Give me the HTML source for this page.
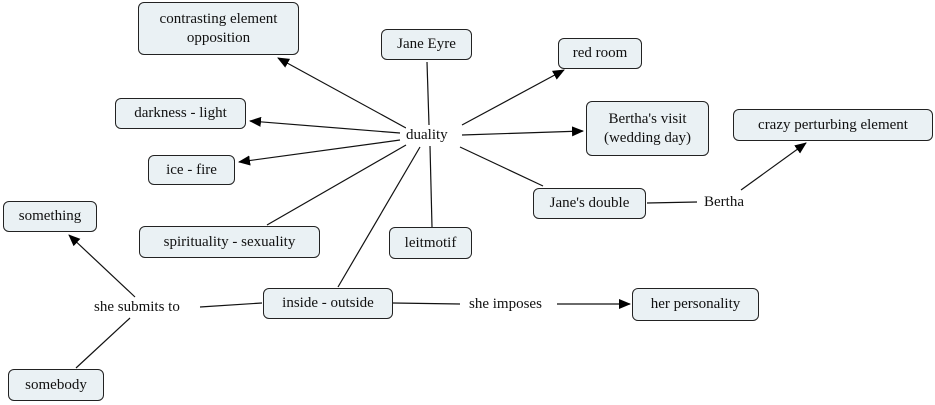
<!DOCTYPE html><html><head><style>
body{margin:0;width:935px;height:405px;background:#fff;position:relative;overflow:hidden;font-family:"Liberation Serif",serif;font-size:15px;color:#111}
.b{position:absolute;box-sizing:border-box;border:1px solid #222;border-radius:6px;background:#eaf1f4;text-align:center;display:flex;align-items:center;justify-content:center;line-height:19px}
.t{position:absolute;background:#fff;line-height:18px;white-space:nowrap}
svg{position:absolute;left:0;top:0}
</style></head><body>
<svg width="935" height="405"><defs><marker id="a" markerWidth="12" markerHeight="10" refX="11" refY="5" orient="auto" markerUnits="userSpaceOnUse"><path d="M0,0L12,5L0,10z" fill="#000"/></marker></defs>
<g stroke="#111" stroke-width="1.2" fill="none">
<line x1="406" y1="128" x2="278" y2="58" marker-end="url(#a)"/>
<line x1="400" y1="133" x2="250" y2="121" marker-end="url(#a)"/>
<line x1="400" y1="140" x2="239" y2="162" marker-end="url(#a)"/>
<line x1="427" y1="62" x2="429" y2="125"/>
<line x1="462" y1="125" x2="564" y2="70" marker-end="url(#a)"/>
<line x1="462" y1="135" x2="583" y2="131" marker-end="url(#a)"/>
<line x1="460" y1="147" x2="543" y2="186"/>
<line x1="406" y1="145" x2="267" y2="225"/>
<line x1="430" y1="146" x2="432" y2="227"/>
<line x1="420" y1="147" x2="338" y2="287"/>
<line x1="647" y1="203" x2="697" y2="202"/>
<line x1="741" y1="190" x2="806" y2="143" marker-end="url(#a)"/>
<line x1="262" y1="303" x2="200" y2="307"/>
<line x1="135" y1="297" x2="69" y2="235" marker-end="url(#a)"/>
<line x1="130" y1="318" x2="76" y2="368"/>
<line x1="393" y1="303" x2="460" y2="304"/>
<line x1="557" y1="304" x2="630" y2="304" marker-end="url(#a)"/>
</g></svg>
<div class="b" style="left:138px;top:2px;width:161px;height:53px">contrasting element<br>opposition</div>
<div class="b" style="left:381px;top:29px;width:91px;height:31px">Jane Eyre</div>
<div class="b" style="left:558px;top:38px;width:84px;height:31px">red room</div>
<div class="b" style="left:115px;top:98px;width:131px;height:31px">darkness - light</div>
<div class="b" style="left:586px;top:101px;width:123px;height:55px">Bertha's visit<br>(wedding day)</div>
<div class="b" style="left:733px;top:109px;width:200px;height:32px">crazy perturbing element</div>
<div class="b" style="left:148px;top:155px;width:87px;height:30px">ice - fire</div>
<div class="b" style="left:533px;top:188px;width:113px;height:31px">Jane's double</div>
<div class="b" style="left:3px;top:201px;width:94px;height:31px">something</div>
<div class="b" style="left:139px;top:226px;width:181px;height:32px">spirituality - sexuality</div>
<div class="b" style="left:389px;top:227px;width:83px;height:32px">leitmotif</div>
<div class="b" style="left:263px;top:288px;width:130px;height:31px">inside - outside</div>
<div class="b" style="left:632px;top:288px;width:127px;height:33px">her personality</div>
<div class="b" style="left:8px;top:369px;width:96px;height:32px">somebody</div>
<div class="t" style="left:406px;top:126px">duality</div>
<div class="t" style="left:704px;top:193px">Bertha</div>
<div class="t" style="left:94px;top:298px">she submits to</div>
<div class="t" style="left:469px;top:295px">she imposes</div>
</body></html>
